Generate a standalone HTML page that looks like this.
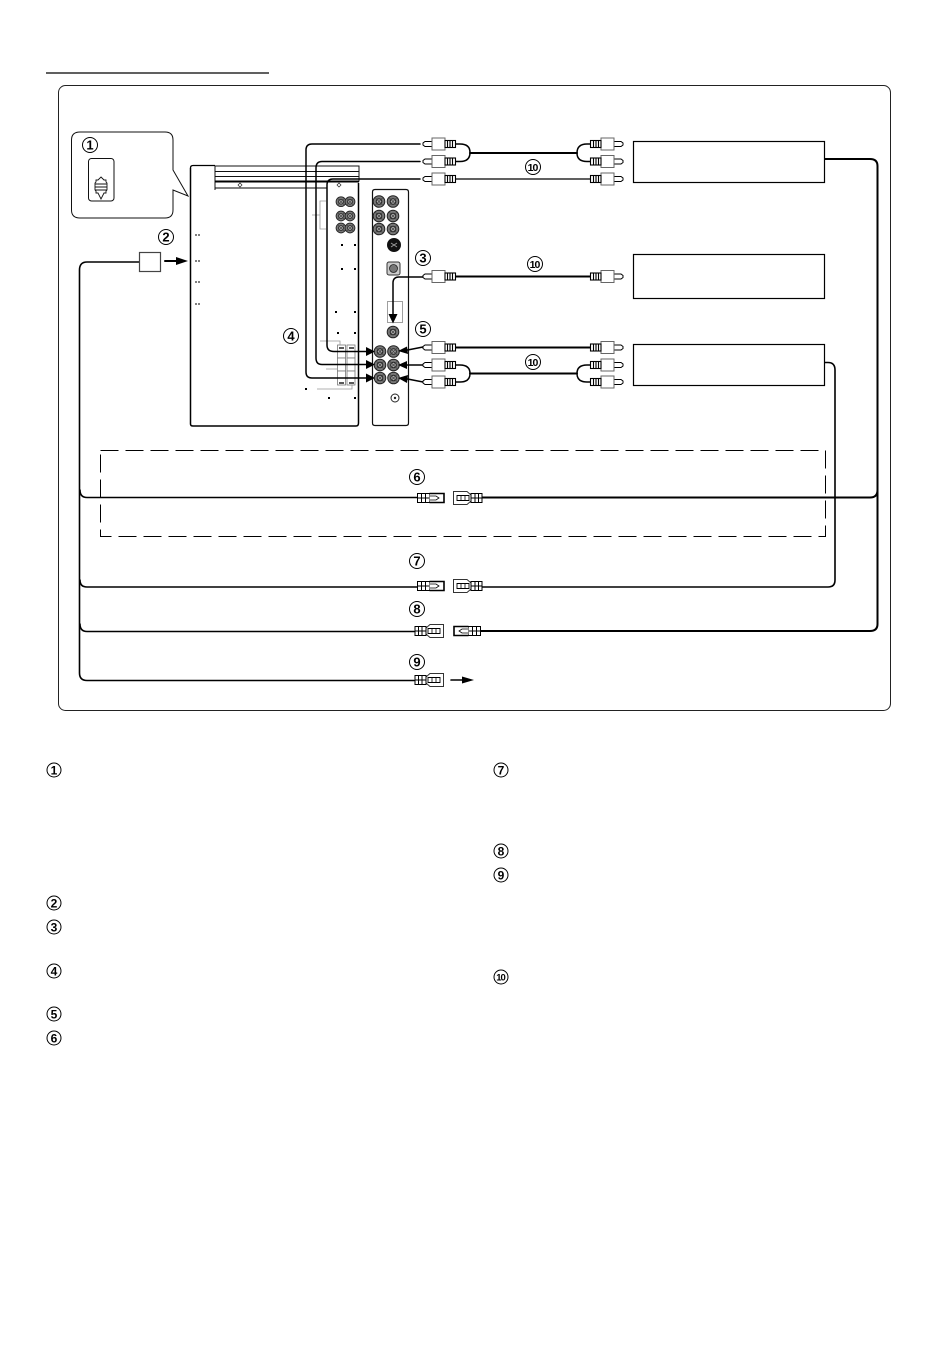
<!DOCTYPE html>
<html><head><meta charset="utf-8"><title>Wiring diagram</title>
<style>html,body{margin:0;padding:0;background:#fff}svg{display:block}
text{font-family:"Liberation Sans",sans-serif;font-weight:bold;fill:#000;text-anchor:middle}</style></head>
<body>
<svg width="950" height="1358" viewBox="0 0 950 1358" xmlns="http://www.w3.org/2000/svg">
<defs>
<g id="plug" fill="#fff" stroke="#000" stroke-width="1">
<path d="M24 -2.5H31L33 -1V1L31 2.500H24Z"/>
<rect x="11" y="-6" width="13" height="12" stroke="#666"/>
<rect x="0.5" y="-3.5" width="10.5" height="7" stroke-width="1.1"/>
<path d="M3.5 -3V3M6 -3V3M8.500 -3V3" stroke-width="1.100"/>
</g>
<g id="jack"><circle r="5.800" fill="#777" stroke="#222" stroke-width="1"/><circle r="2.800" fill="#aaa" stroke="#222" stroke-width="1"/><path d="M-4 -4L4 4M-4 4L4 -4" stroke="#444" stroke-width=".8"/></g>
<g id="conA" fill="#fff" stroke="#000">
<rect x="0.5" y="-4.5" width="12" height="9"/><path d="M4.500 -4.500V4.500M8.500 -4.500V4.500M0.500 0H12"/>
<path d="M12.500 -4.500H27V4.500H12.500" stroke-width="1.600"/><path d="M13 -2H19L22 0L19 2H13" stroke-width=".8"/>
</g>
<g id="conB" fill="#fff" stroke="#000">
<path d="M0.500 -6.500H14L18 -3H29V3H18L14 6.500H0.500Z" stroke="#333"/>
<rect x="18" y="-4.500" width="11" height="9"/><path d="M22 -4.500V4.500M25.500 -4.500V4.500M18 0H29"/>
<path d="M4 -2.500H16V2.500H4Z" stroke-width=".9"/><path d="M8 -2.500V2.500M12 -2.500V2.500" stroke-width=".8"/>
</g>
</defs>

<path d="M46 73H269" stroke="#000" stroke-width="1.200"/>
<rect x="58.500" y="85.500" width="832" height="625" rx="7" fill="#fff" stroke="#222" stroke-width="1"/>

<!-- callout -->
<path d="M80 132H165Q173 132 173 140V170L188 196L173 190V210Q173 218 165 218H80Q71.500 218 71.500 210V140Q71.500 132 80 132Z" fill="#fff" stroke="#111" stroke-width="1"/>
<rect x="88.500" y="158.500" width="25.500" height="42.500" rx="3" fill="#fff" stroke="#111" stroke-width="1"/>
<path d="M101 177L104 180H106V182L107 183V190L106 191V193H104L101 199L98 193H96V191L95 190V183L96 182V180H98Z" fill="#fff" stroke="#111" stroke-width=".9"/>
<path d="M95 184H107M95 187H107M95 190H107" stroke="#111" stroke-width="1"/>

<!-- TV body -->
<path d="M215 166H359V181.500M215 166V190M215 171.500H359M215 176.500H359" fill="none" stroke="#111" stroke-width="1"/>
<path d="M215 181.500H359" stroke="#000" stroke-width="2"/>
<path d="M215 188H327" stroke="#000" stroke-width="1"/>
<path d="M190.500 168V424Q190.500 426 193 426H356Q358.500 426 358.500 423V183" fill="none" stroke="#000" stroke-width="1.500"/>
<path d="M190.500 168Q190.500 165.500 193 165.500H215" fill="none" stroke="#000" stroke-width="1.300"/>
<path d="M240 183L242 185L240 187L238 185Z M339 183L341 185L339 187L337 185Z" fill="#fff" stroke="#222" stroke-width=".7"/>
<path d="M195 235h5M195 261h5M195 282h5M195 304h5" stroke="#333" stroke-width="1.300" stroke-dasharray="2 1"/>

<!-- TV jacks -->
<path d="M326 201H320V229H326M320 215H312" fill="none" stroke="#999" stroke-width=".8"/>
<use href="#jack" transform="translate(341 201.700) scale(.85)"/>
<use href="#jack" transform="translate(341 216) scale(.85)"/>
<use href="#jack" transform="translate(341 228) scale(.85)"/>
<use href="#jack" transform="translate(350 201.700) scale(.85)"/>
<use href="#jack" transform="translate(350 216) scale(.85)"/>
<use href="#jack" transform="translate(350 228) scale(.85)"/>
<g fill="#000"><rect x="341" y="244" width="2" height="2"/><rect x="354" y="244" width="2" height="2"/><rect x="341" y="268" width="2" height="2"/><rect x="354" y="268" width="2" height="2"/><rect x="335" y="311" width="2" height="2"/><rect x="354" y="311" width="2" height="2"/><rect x="337" y="332" width="2" height="2"/><rect x="354" y="332" width="2" height="2"/><rect x="305" y="388" width="2" height="2"/><rect x="328" y="397" width="2" height="2"/><rect x="354" y="397" width="2" height="2"/></g>
<!-- TV lower connector block -->
<g fill="#fff" stroke="#777" stroke-width=".8">
<rect x="337.500" y="345" width="8" height="13"/><rect x="347" y="345" width="8" height="13"/>
<rect x="337.500" y="358" width="8" height="13"/><rect x="347" y="358" width="8" height="13"/>
<rect x="337.500" y="371" width="8" height="14"/><rect x="347" y="371" width="8" height="14"/>
</g>
<path d="M320 341H340V345M326 369H337M317 389H352V385" fill="none" stroke="#999" stroke-width=".8"/>
<path d="M339 348h5M349 348h5M339 383h5M349 383h5" stroke="#222" stroke-width="1.500"/>

<!-- AV panel -->
<path d="M372.500 192Q372.500 189.500 375 189.500H406Q408.500 189.500 408.500 192V423Q408.500 425.500 406 425.500H375Q372.500 425.500 372.500 423Z" fill="#fff" stroke="#111" stroke-width="1.200"/>
<use href="#jack" x="379" y="201.500"/><use href="#jack" x="393" y="201.500"/>
<use href="#jack" x="379" y="216"/><use href="#jack" x="393" y="216"/>
<use href="#jack" x="379" y="229"/><use href="#jack" x="393" y="229"/>
<circle cx="394" cy="245" r="7" fill="#111"/><path d="M391 243L397 247M391 247L397 243" stroke="#999" stroke-width="1"/>
<rect x="387" y="262" width="13" height="13" rx="2" fill="#ccc" stroke="#333" stroke-width="1"/><circle cx="393.500" cy="268.500" r="4" fill="#777" stroke="#222" stroke-width=".8"/>
<rect x="387.500" y="301.500" width="15" height="21" fill="#fff" stroke="#888" stroke-width=".8"/>
<use href="#jack" x="393" y="332"/>
<use href="#jack" x="380" y="351.500"/><use href="#jack" x="393.500" y="351.500"/>
<use href="#jack" x="380" y="365"/><use href="#jack" x="393.500" y="365"/>
<use href="#jack" x="380" y="378"/><use href="#jack" x="393.500" y="378"/>
<circle cx="395" cy="398" r="4" fill="#fff" stroke="#222" stroke-width="1"/><circle cx="395" cy="398" r="1.200" fill="#222"/>

<!-- wires -->
<g fill="none" stroke="#000" stroke-linecap="round">
<path d="M420 144H312Q306 144 306 150V372Q306 378 312 378H368" stroke-width="1.500"/>
<path d="M420 161.500H322Q316 161.500 316 168V358Q316 364.500 322 364.500H368" stroke-width="1.500"/>
<path d="M420 179H333Q327 179 327 185V345Q327 351.500 334 351.500H368" stroke-width="1.500"/>
<path d="M423 277H399Q393 277 393 283V316" stroke-width="1.500"/>
<path d="M456 144H460Q470 144 470 152.500Q470 161.500 460 161.500H456" stroke-width="1.500"/>
<path d="M470 153H577" stroke-width="2"/>
<path d="M590 144H587Q577 144 577 153Q577 161.500 587 161.500H590" stroke-width="1.500"/>
<path d="M456 179H590" stroke-width="1.300"/>
<path d="M456 276.500H590" stroke-width="2"/>
<path d="M456 347.500H590" stroke-width="2"/>
<path d="M456 365H460Q470 365 470 373.500Q470 382 460 382H456" stroke-width="1.500"/>
<path d="M470 373.500H577" stroke-width="2"/>
<path d="M590 365H587Q577 365 577 373.500Q577 382 587 382H590" stroke-width="1.500"/>
<path d="M423 347L405 350.500" stroke-width="1.500"/>
<path d="M423 365H405" stroke-width="1.500"/>
<path d="M423 382L405 378.500" stroke-width="1.500"/>

<path d="M825 159H870Q877.500 159 877.500 166V624Q877.500 631 870 631H481" stroke-width="2"/>
<path d="M482 497.500H870Q877.500 497.500 877.500 490" stroke-width="2"/>
<path d="M825 362.500H828Q835 362.500 835 370V580Q835 587 828 587H482" stroke-width="1.600"/>
<path d="M139 262H87Q79.500 262 79.500 270V673Q79.500 680.500 87 680.500H414" stroke-width="1.600"/>
<path d="M80 490Q80 497.500 87 497.500H417" stroke-width="1.600"/>
<path d="M80 580Q80 587 87 587H417" stroke-width="1.600"/>
<path d="M80 624Q80 631.500 87 631.500H414" stroke-width="1.600"/>
<path d="M165 261H178" stroke-width="2"/>
<path d="M451 680H464" stroke-width="1.600"/>
</g>

<!-- arrowheads -->
<g fill="#000">
<path d="M375 351.500L366 347V356Z"/><path d="M375 364.500L366 360V369Z"/><path d="M375 378L366 373.500V382.500Z"/>
<path d="M393 323.500L388.500 314H397.500Z"/>
<path d="M398 351L407 346.500L408 354Z"/><path d="M398 365L407 361V369Z"/><path d="M398 378L408 375L407 383Z"/>
<path d="M188 261L176 257V265Z"/>
<path d="M474 680L462 676.500V683.500Z"/>
</g>

<!-- plugs -->
<use href="#plug" transform="translate(456 144) scale(-1 1)"/>
<use href="#plug" transform="translate(456 161.500) scale(-1 1)"/>
<use href="#plug" transform="translate(456 179) scale(-1 1)"/>
<use href="#plug" transform="translate(456 276.500) scale(-1 1)"/>
<use href="#plug" transform="translate(456 347.500) scale(-1 1)"/>
<use href="#plug" transform="translate(456 365) scale(-1 1)"/>
<use href="#plug" transform="translate(456 382) scale(-1 1)"/>
<use href="#plug" transform="translate(590 144)"/>
<use href="#plug" transform="translate(590 161.500)"/>
<use href="#plug" transform="translate(590 179)"/>
<use href="#plug" transform="translate(590 276.500)"/>
<use href="#plug" transform="translate(590 347.500)"/>
<use href="#plug" transform="translate(590 365)"/>
<use href="#plug" transform="translate(590 382)"/>

<!-- device boxes -->
<g fill="#fff" stroke="#000" stroke-width="1.200">
<rect x="633.500" y="141.500" width="191" height="41"/>
<rect x="633.500" y="254.500" width="191" height="44"/>
<rect x="633.500" y="344.500" width="191" height="41"/>
<rect x="139.500" y="252.500" width="21" height="19" stroke="#444"/>
</g>

<rect x="100.500" y="450.500" width="725" height="86" fill="none" stroke="#000" stroke-width="1" stroke-dasharray="18 7"/>

<!-- spade connectors -->
<use href="#conA" transform="translate(417 498)"/>
<use href="#conB" transform="translate(453 498)"/>
<use href="#conA" transform="translate(417 586)"/>
<use href="#conB" transform="translate(453 586)"/>
<use href="#conB" transform="translate(444 631) scale(-1 1)"/>
<use href="#conA" transform="translate(481 631) scale(-1 1)"/>
<use href="#conB" transform="translate(444 680) scale(-1 1)"/>

<!-- numbered circles -->
<g fill="#fff" stroke="#000" stroke-width="1">
<circle cx="90" cy="145" r="7.500"/><circle cx="166" cy="237" r="7.500"/><circle cx="291" cy="336" r="7.500"/>
<circle cx="423" cy="258" r="7.500"/><circle cx="423" cy="329" r="7.500"/>
<circle cx="417" cy="477" r="7.500"/><circle cx="417" cy="561" r="7.500"/><circle cx="417" cy="609" r="7.500"/><circle cx="417" cy="662" r="7.500"/>
<circle cx="533" cy="167" r="7.500"/><circle cx="535" cy="264" r="7.500"/><circle cx="533" cy="362" r="7.500"/>
<circle cx="54" cy="770" r="7"/><circle cx="54" cy="903" r="7"/><circle cx="54" cy="927" r="7"/><circle cx="54" cy="971" r="7"/><circle cx="54" cy="1014" r="7"/><circle cx="54" cy="1038" r="7"/>
<circle cx="501" cy="770" r="7"/><circle cx="501" cy="851" r="7"/><circle cx="501" cy="875" r="7"/><circle cx="501" cy="977" r="7"/>
</g>
<g font-size="13">
<text x="90" y="149.700">1</text><text x="166" y="241.700">2</text><text x="291" y="340.700">4</text>
<text x="423" y="262.700">3</text><text x="423" y="333.700">5</text>
<text x="417" y="481.700">6</text><text x="417" y="565.700">7</text><text x="417" y="613.700">8</text><text x="417" y="666.700">9</text>
</g>
<g font-size="10.500" letter-spacing="-1"><text x="532.500" y="170.800">10</text><text x="534.500" y="267.800">10</text><text x="532.500" y="365.800">10</text></g>
<g font-size="12">
<text x="54" y="774.300">1</text><text x="54" y="907.300">2</text><text x="54" y="931.300">3</text><text x="54" y="975.300">4</text><text x="54" y="1018.300">5</text><text x="54" y="1042.300">6</text>
<text x="501" y="774.300">7</text><text x="501" y="855.300">8</text><text x="501" y="879.300">9</text>
</g>
<text x="500.500" y="980.500" font-size="9.500" letter-spacing="-1">10</text>
</svg>
</body></html>
